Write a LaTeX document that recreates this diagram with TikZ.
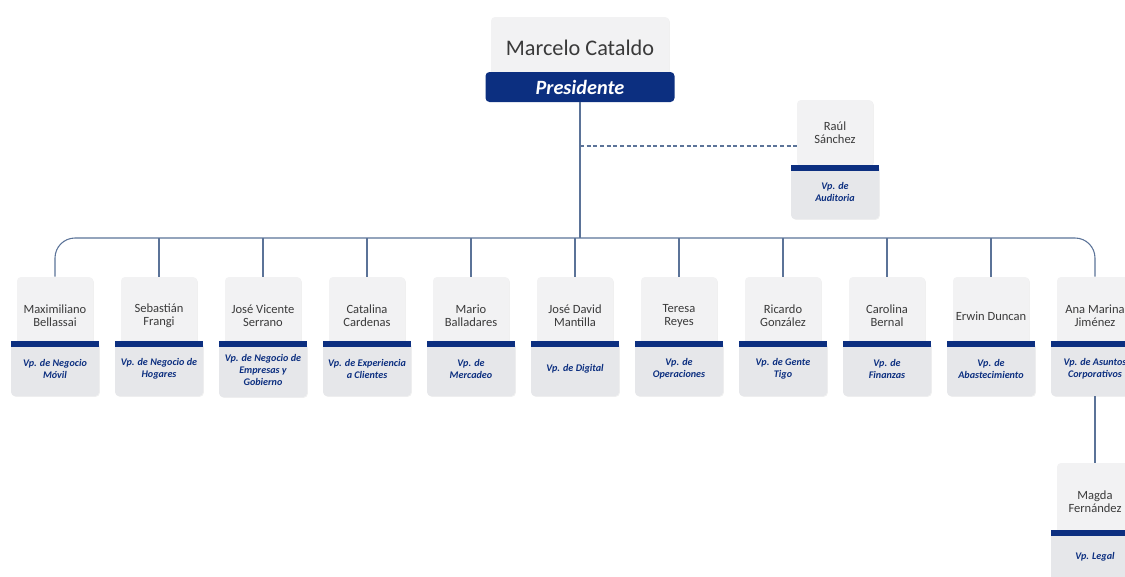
\documentclass[tikz,border=0pt]{standalone}
\usepackage{fontspec}
\setmainfont{Carlito}
\usetikzlibrary{shadows}
\definecolor{barnavy}{HTML}{0C2F80}
\definecolor{upgray}{HTML}{F2F2F3}
\definecolor{lowgray}{HTML}{E6E7EA}
\definecolor{linkblue}{HTML}{5B7398}
\definecolor{namegray}{HTML}{3A3A3A}
\begin{document}
\begin{tikzpicture}[x=0.75pt,y=-0.75pt,
    upbox/.style={rectangle, rounded corners=3pt, fill=upgray, minimum width=57pt, minimum height=58.5pt,
        align=center, text=namegray, font=\fontsize{9.4}{10}\selectfont, inner sep=1pt,
        drop shadow={opacity=0.12, shadow xshift=0.6pt, shadow yshift=-0.6pt}},
    lowbox/.style={rectangle, rounded corners=3pt, fill=lowgray, minimum width=66pt, minimum height=40.5pt,
        align=center, text=barnavy, font=\fontsize{7.6}{8.9}\selectfont\bfseries\itshape, inner sep=1pt,
        drop shadow={opacity=0.12, shadow xshift=0.6pt, shadow yshift=-0.6pt}},
    bar/.style={rectangle, fill=barnavy, minimum width=66pt, minimum height=4.5pt, inner sep=0pt},
    link/.style={draw=linkblue, line width=0.8pt}]
    \useasboundingbox (0,0) rectangle (1125,576);

    % presidente
    \node[upbox, minimum width=133.5pt, minimum height=46.5pt, font=\fontsize{16.7}{20}\selectfont] (pres) at (580,48) {Marcelo Cataldo};
    \node[bar, minimum width=141.75pt, minimum height=22.5pt, rounded corners=3pt, text=white,
        font=\fontsize{15.2}{18}\selectfont\bfseries\itshape] (presb) at (580,87) {Presidente};

    % auditoria
    \node[upbox, minimum height=49.5pt] (raul) at (835,133) {Raúl\\Sánchez};
    \node[lowbox] (raulr) at (835,192) {Vp. de\\Auditoria};
    \node[bar] (raulb) at (835,168) {};

    % vicepresidencias
    \node[upbox] (maxi) at (55,316) {Maximiliano\\Bellassai};
    \node[lowbox] (maxir) at (55,369) {Vp. de Negocio\\Móvil};
    \node[bar] (maxib) at (55,344) {};

    \node[upbox] (seba) at (159,316) {Sebastián\\Frangi};
    \node[lowbox] (sebar) at (159,369) {Vp. de Negocio de\\Hogares};
    \node[bar] (sebab) at (159,344) {};

    \node[upbox] (jvic) at (263,316) {José Vicente\\Serrano};
    \node[lowbox] (jvicr) at (263,370) {Vp. de Negocio de\\Empresas y\\Gobierno};
    \node[bar] (jvicb) at (263,344) {};

    \node[upbox] (cata) at (367,316) {Catalina\\Cardenas};
    \node[lowbox] (catar) at (367,369) {Vp. de Experiencia\\a Clientes};
    \node[bar] (catab) at (367,344) {};

    \node[upbox] (mari) at (471,316) {Mario\\Balladares};
    \node[lowbox] (marir) at (471,369) {Vp. de\\Mercadeo};
    \node[bar] (marib) at (471,344) {};

    \node[upbox] (jdav) at (575,316) {José David\\Mantilla};
    \node[lowbox] (jdavr) at (575,369) {Vp. de Digital};
    \node[bar] (jdavb) at (575,344) {};

    \node[upbox] (tere) at (679,316) {Teresa\\Reyes};
    \node[lowbox] (terer) at (679,369) {Vp. de\\Operaciones};
    \node[bar] (tereb) at (679,344) {};

    \node[upbox] (rica) at (783,316) {Ricardo\\González};
    \node[lowbox] (ricar) at (783,369) {Vp. de Gente\\Tigo};
    \node[bar] (ricab) at (783,344) {};

    \node[upbox] (caro) at (887,316) {Carolina\\Bernal};
    \node[lowbox] (caror) at (887,369) {Vp. de\\Finanzas};
    \node[bar] (carob) at (887,344) {};

    \node[upbox] (erwi) at (991,316) {Erwin Duncan};
    \node[lowbox] (erwir) at (991,369) {Vp. de\\Abastecimiento};
    \node[bar] (erwib) at (991,344) {};

    \node[upbox] (anam) at (1095,316) {Ana Marina\\Jiménez};
    \node[lowbox] (anamr) at (1095,369) {Vp. de Asuntos\\Corporativos};
    \node[bar] (anamb) at (1095,344) {};

    \node[upbox] (magd) at (1095,502) {Magda\\Fernández};
    \node[lowbox] (magdr) at (1095,557) {Vp. Legal};
    \node[bar] (magdb) at (1095,533) {};

    % lineas
    \coordinate (hub) at (580,238);
    \coordinate (audit) at ([yshift=-9.75pt]raul.west);
    \draw[link] (presb.south) -- (hub);
    \draw[link, dash pattern=on 3pt off 2pt] (presb.south |- audit) -- (audit);
    \draw[link, rounded corners=15pt] (maxi.north) |- (hub) -| (anam.north);
    \draw[link] (seba.north) -- (seba.north |- hub);
    \draw[link] (jvic.north) -- (jvic.north |- hub);
    \draw[link] (cata.north) -- (cata.north |- hub);
    \draw[link] (mari.north) -- (mari.north |- hub);
    \draw[link] (jdav.north) -- (jdav.north |- hub);
    \draw[link] (tere.north) -- (tere.north |- hub);
    \draw[link] (rica.north) -- (rica.north |- hub);
    \draw[link] (caro.north) -- (caro.north |- hub);
    \draw[link] (erwi.north) -- (erwi.north |- hub);
    \draw[link] (anamr.south) -- (magd.north);
\end{tikzpicture}
\end{document}
